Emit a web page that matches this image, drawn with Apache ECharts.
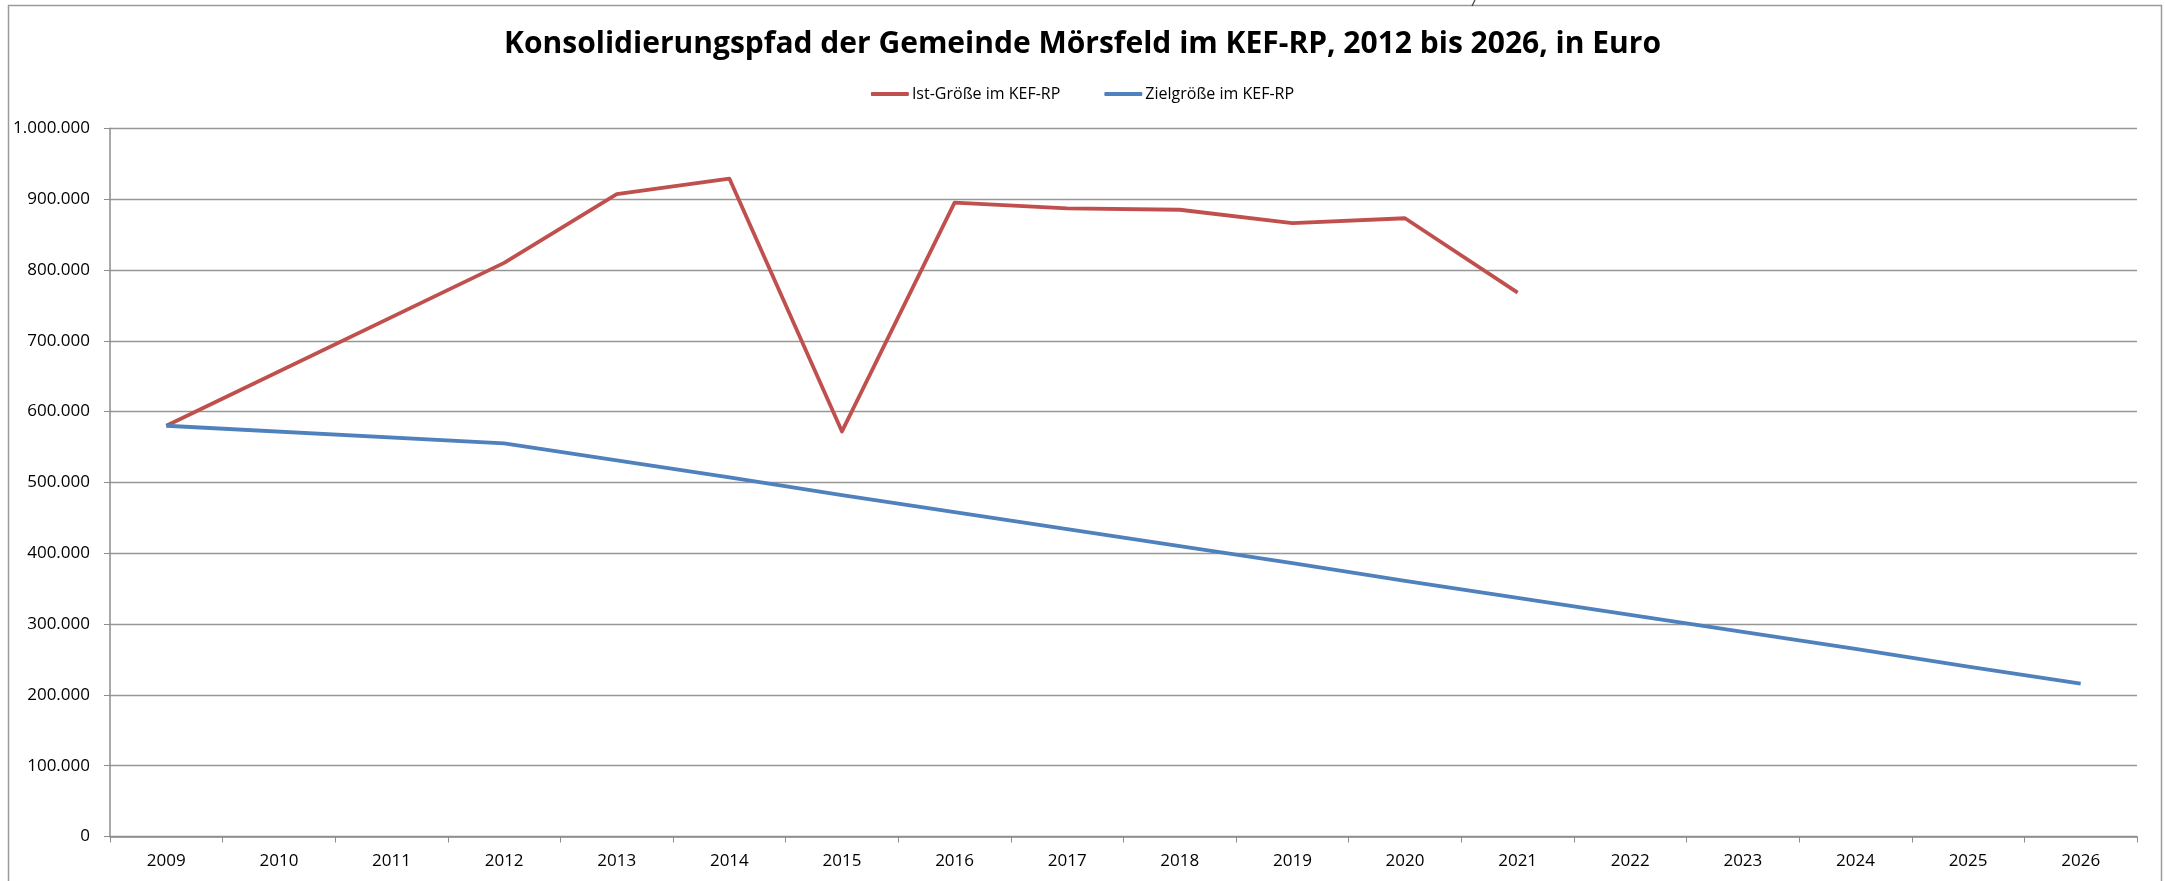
<!DOCTYPE html>
<html>
<head>
<meta charset="utf-8">
<script src="https://cdn.jsdelivr.net/npm/echarts@6/dist/echarts.min.js"></script>
<style>
html,body{margin:0;padding:0;background:#fff;}
#chart{width:2165px;height:881px;}
</style>
</head>
<body>
<div id="chart"></div>
<script>
const titleText = 'Konsolidierungspfad der Gemeinde Mörsfeld im KEF-RP, 2012 bis 2026, in Euro';
const years = ['2009','2010','2011','2012','2013','2014','2015','2016','2017','2018','2019','2020','2021','2022','2023','2024','2025','2026'];
const istName = 'Ist-Größe im KEF-RP';
const zielName = 'Zielgröße im KEF-RP';
const istValues = [580000, null, null, 810000, 907000, 929000, 572000, 895000, 887000, 885000, 866000, 873000, 768000, null, null, null, null, null];
const zielValues = [580000, null, null, 555000, 531000, 507000, 482000, 458000, 434000, 410000, 386000, 361000, 337000, 313000, 289000, 265000, 240000, 216000];
const yMin = 0, yMax = 1000000, yStep = 100000;

function deFormat(v){
  return String(Math.round(v)).replace(/\B(?=(\d{3})+(?!\d))/g, '.');
}

const chart = echarts.init(document.getElementById('chart'), null, {renderer:'canvas'});
const font = "'Open Sans', 'Noto Sans', sans-serif";
chart.setOption({
  backgroundColor:'#ffffff',
  animation:false,
  title:{
    text:titleText,
    left:'center',
    top:24,
    textStyle:{fontFamily:font,fontSize:30,fontWeight:'bold',color:'#000'}
  },
  legend:{
    data:[istName, zielName],
    left:'center',
    top:81,
    icon:'roundRect',
    itemWidth:38,
    itemHeight:4,
    itemGap:44,
    textStyle:{fontFamily:font,fontSize:16,color:'#000',padding:[0,0,0,-2]}
  },
  grid:{left:110,right:28,top:128.3,bottom:44.5,containLabel:false},
  xAxis:{
    type:'category',
    data:years,
    boundaryGap:true,
    axisLine:{lineStyle:{color:'#8c8c8c',width:1.5}},
    axisTick:{show:true,length:6,lineStyle:{color:'#8c8c8c',width:1}},
    axisLabel:{fontFamily:font,fontSize:17,color:'#000',margin:16},
    splitLine:{show:false}
  },
  yAxis:{
    type:'value',
    min:yMin,max:yMax,interval:yStep,
    axisLine:{show:true,lineStyle:{color:'#8c8c8c',width:1.5}},
    axisTick:{show:true,length:6,lineStyle:{color:'#8c8c8c',width:1}},
    axisLabel:{fontFamily:font,fontSize:17,color:'#000',margin:20,formatter:deFormat},
    splitLine:{show:true,lineStyle:{color:'#969696',width:1.3}}
  },
  series:[
    {name:istName,type:'line',data:istValues,connectNulls:true,symbol:'none',
     lineStyle:{color:'#C0504D',width:3.8,join:'round'},itemStyle:{color:'#C0504D'}},
    {name:zielName,type:'line',data:zielValues,connectNulls:true,symbol:'none',
     lineStyle:{color:'#4F81BD',width:3.8,join:'round'},itemStyle:{color:'#4F81BD'}}
  ],
  graphic:[
    {type:'rect',silent:true,z:-1,shape:{x:8.5,y:5.5,width:2153,height:900},
     style:{fill:null,stroke:'#9a9a9a',lineWidth:1.5}},
    {type:'line',silent:true,shape:{x1:1475,y1:0,x2:1472,y2:6},style:{stroke:'#444',lineWidth:1.2}}
  ]
});
</script>
</body>
</html>
